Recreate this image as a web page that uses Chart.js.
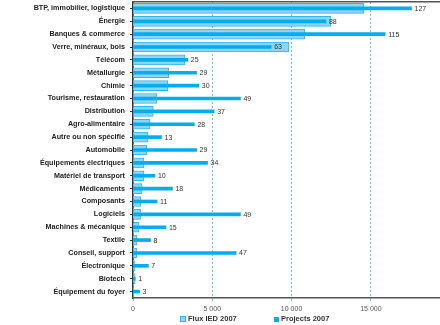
<!DOCTYPE html>
<html>
<head>
<meta charset="utf-8">
<script src="https://cdn.jsdelivr.net/npm/chart.js@4/dist/chart.umd.min.js"></script>
<style>
    html, body { margin: 0; padding: 0; background: #fff; }
    #wrap { position: relative; width: 440px; height: 325px; }
    .legende { position: absolute; top: 314px; font: bold 7.5px "Liberation Sans", Arial, sans-serif; color: #333; white-space: nowrap; }
    .legende span { display: inline-block; width: 5px; height: 5px; margin-right: 2px; vertical-align: -1px; }
</style>
</head>
<body>
<div id="wrap">
    <canvas id="grafico" width="440" height="325"></canvas>
    <div class="legende" style="left:180px"><span style="background:#8dd5f5;border:1px solid #2fb6ea;width:4px;height:4px"></span>Flux IED 2007</div>
    <div class="legende" style="left:274px"><span style="background:#00aeef"></span>Projects 2007</div>
</div>
<script>
const secteurs = [
    "BTP, immobilier, logistique", "Énergie", "Banques & commerce", "Verre, minéraux, bois",
    "Télécom", "Métallurgie", "Chimie", "Tourisme, restauration", "Distribution",
    "Agro-alimentaire", "Autre ou non spécifié", "Automobile", "Équipements électriques",
    "Matériel de transport", "Médicaments", "Composants", "Logiciels", "Machines & mécanique",
    "Textile", "Conseil, support", "Électronique", "Biotech", "Équipement du foyer"
];

// flux IED 2007 (axe du bas)
const fluxIED = [14560, 12480, 10840, 9830, 3280, 2270, 2200, 1490, 1280, 1070, 945, 880,
    690, 690, 570, 500, 480, 380, 250, 250, 130, 140, 20];

// nombre de projets 2007 (échelle cachée)
const projets = [127, 88, 115, 63, 25, 29, 30, 49, 37, 28, 13, 29, 34, 10, 18, 11, 49, 15,
    8, 47, 7, 1, 3];

const graduations = [0, 5000, 10000, 15000];

function formaterMilliers(v) {
    return String(v).replace(/\B(?=(\d{3})+(?!\d))/g, " ");
}

// étiquettes au bout des barres de projets
const etiquettesProjets = {
    id: "etiquettesProjets",
    afterDatasetsDraw(chart) {
        const ctx = chart.ctx;
        const meta = chart.getDatasetMeta(1);
        ctx.save();
        ctx.font = "7px 'Liberation Sans', Arial, sans-serif";
        ctx.fillStyle = "#333";
        ctx.textBaseline = "middle";
        meta.data.forEach(function (barre, i) {
            ctx.fillText(String(projets[i]), barre.x + 3, barre.y + 0.5);
        });
        ctx.restore();
    }
};

new Chart(document.getElementById("grafico"), {
    type: "bar",
    data: {
        labels: secteurs,
        datasets: [{
            label: "Flux IED 2007",
            data: fluxIED,
            xAxisID: "x",
            backgroundColor: "#8dd5f5",
            borderColor: "#2fb6ea",
            borderWidth: 1,
            borderSkipped: "start",
            barThickness: 10,
            grouped: false,
            order: 2
        }, {
            label: "Projects 2007",
            data: projets,
            xAxisID: "x2",
            backgroundColor: "#00aeef",
            borderWidth: 0,
            barThickness: 3,
            grouped: false,
            order: 1
        }]
    },
    options: {
        indexAxis: "y",
        responsive: false,
        animation: false,
        layout: { padding: { top: 2, right: 0, bottom: 0, left: 0 } },
        plugins: {
            legend: { display: false },
            tooltip: { enabled: false }
        },
        scales: {
            y: {
                position: "left",
                afterFit: function (escala) {
                    escala.width = 133;
                    escala.paddingTop = 0;
                    escala.paddingBottom = 0;
                },
                border: { display: true, color: "#333", width: 1.5 },
                grid: { drawOnChartArea: false, drawTicks: true, tickLength: 3, offset: false, color: "#333" },
                ticks: {
                    padding: 5,
                    color: "#222",
                    font: { family: "'Liberation Sans', Arial, sans-serif", size: 7.2, weight: "bold" }
                }
            },
            x: {
                position: "bottom",
                min: 0,
                max: 19360,
                afterFit: function (escala) { escala.height = 27; },
                afterBuildTicks: function (escala) {
                    escala.ticks = graduations.map(function (v) { return { value: v }; });
                },
                // en v4, border.dash s'applique aux lignes de grille
                border: { display: true, color: "#555", width: 1.5, dash: [2, 2] },
                grid: {
                    color: "#5cc6ef",
                    lineWidth: 1,
                    tickLength: 3,
                    tickColor: "#5cc6ef"
                },
                ticks: {
                    padding: 4,
                    color: "#555",
                    font: { family: "'Liberation Sans', Arial, sans-serif", size: 7 },
                    callback: function (v) { return formaterMilliers(v); }
                }
            },
            x2: {
                position: "top",
                min: 0,
                max: 140,
                afterFit: function (escala) { escala.height = 0; },
                border: { display: true, color: "#555", width: 1.5 },
                grid: { drawOnChartArea: false, drawTicks: false },
                ticks: { display: false }
            }
        }
    },
    plugins: [etiquettesProjets]
});
</script>
</body>
</html>
